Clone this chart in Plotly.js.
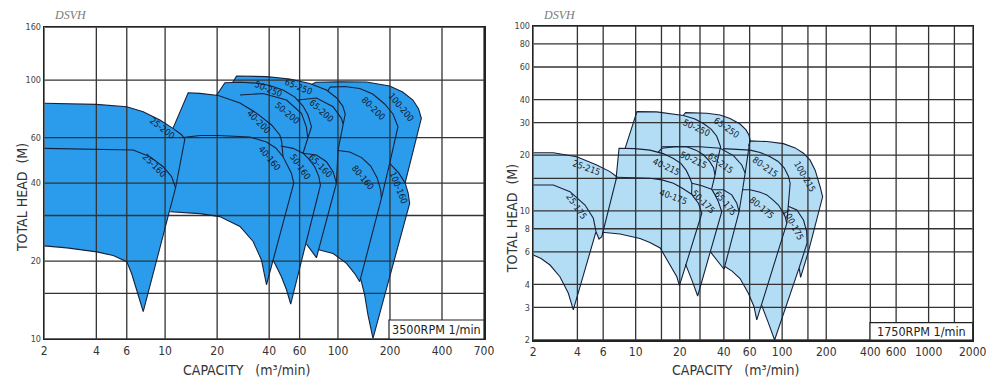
<!DOCTYPE html>
<html><head><meta charset="utf-8">
<script src="https://cdn.plot.ly/plotly-3.0.1.min.js"></script>
<style>html,body{margin:0;padding:0;background:#fff;}#chart{width:1000px;height:390px;}</style>
</head><body><div id="chart"></div>
<script>
// ===================== 3500 RPM (left chart) =====================
const xTicksL = [2,4,6,10,20,40,60,100,200,400,700];
const yTicksL = [10,20,40,60,100,160];
const xGridL = [2,4,6,10,20,40,60,100,200,400,700];
const yGridL = [10,15,20,30,40,60,100,160];

// pump family outlines (capacity m3/min, head m)
const L25_Q = [2,4,6,7.47,9.33,11.1,12.5,13.0,11.5,7.47,6.84,6.40,6.0,5.01,4.03,2.70,2];
const L25_H = [81.4,80.6,78.9,75.5,70.1,65.1,61.4,59.1,38.4,12.75,15.5,17.9,19.9,21.0,21.7,22.5,22.9];
const L25_160_Q = [2,4,6.54,8.17,9.75,10.9,11.5];
const L25_160_H = [54.5,54.2,53.7,50.6,46.3,42.4,38.4];

const L40_Q = [11.1,13.6,15.9,20.3,27.1,33.8,41.3,46.1,47.3,48.1,53.8,55.5,38.6,36.1,32.3,27.1,20.7,15.9,10.7];
const L40_H = [65.1,89.4,88.9,87.2,81.6,74.6,67.1,61.4,57.7,50.6,43.7,40.0,16.2,20.2,23.8,27.2,29.7,30.5,31.0];
const L40_160_Q = [12.7,15.9,20.3,30.9,38.6,43.7,48.1];
const L40_160_H = [60.0,61.1,61.1,60.3,57.7,54.7,50.6];

const L50_Q = [19.8,22.2,27.1,33.8,40.3,48.1,56.3,62.8,67.1,70.3,62.8,67.8,73.4,77.4,79.2,53.3,50.4,47.1,43.1,42.1];
const L50_H = [87.2,97.7,98.1,97.4,95.3,91.6,86.0,79.4,73.3,66.1,52.2,49.6,46.3,42.6,39.3,13.65,15.5,17.4,19.6,20.2];
const L50_200_Q = [27.1,36.9,50.4,61.5,65.7,66.9];
const L50_200_H = [87.6,88.8,83.8,74.4,65.9,59.8];
const L50_160_Q = [46.7,55.0,62.8];
const L50_160_H = [55.7,54.5,52.2];

const L65_Q = [24.6,25.9,38.6,52.6,68.7,85.8,98.4,106.6,110.2,100.1,98.0,75.1,65.7];
const L65_H = [97.8,103.7,103.2,101.0,97.0,91.6,85.3,79.4,74.0,53.7,40.0,20.6,23.3];
const L65_200_Q = [58.6,75.1,93.7,104.7,107.3];
const L65_200_H = [83.8,85.3,78.9,71.2,67.7];
const L65_160_Q = [62.8,75.1,85.8,93.7,98.0];
const L65_160_H = [52.2,51.4,48.4,44.3,40.0];

const L80_Q = [87.3,90.2,109.4,133.7,158.9,186.4,208.2,222.5,199.2,178.4,133.7,125.0,112.0,93.7,77.4];
const L80_H = [90.8,94.0,94.5,92.8,88.4,80.9,74.0,66.1,47.7,34.9,16.65,17.9,19.6,21.4,22.1];
const L80_160_Q = [100.4,117,137.2,154.7,168.7,176.7,178.4];
const L80_160_H = [53.5,52.8,50.2,46.6,41.9,37.6,34.9];

const L100_Q = [70.5,74.4,102.4,146.1,199.2,236.8,271.6,293,303.8,244.8,254.9,260,159.5,149.2,142.8,135.5];
const L100_H = [96.2,98.1,98.5,98.3,94.9,90.0,83.8,77.3,71.2,40.1,36.6,33.4,10.06,12.4,14.8,17.05];
const L100_160_Q = [199.2,224.6,244.8];
const L100_160_H = [47.7,43.8,40.1];

const labelsL = ['25-200','25-160','40-200','40-160','50-250','50-200','50-160','65-250','65-200','65-160','80-200','80-160','100-200','100-160'];
const labelQL = [9.6,8.73,34.8,40.0,39.4,50.8,60.7,59.3,80.3,79.2,161.6,139.6,230.6,223.7];
const labelHL = [65.5,46.7,68.7,49.9,92.1,74.8,46.3,93.8,76.0,46.6,77.6,41.8,78.5,38.2];

// ===================== 1750 RPM (right chart) =====================
const xTicksR = [2,4,6,10,20,40,60,100,200,400,600,1000,2000];
const yTicksR = [2,3,4,6,8,10,20,30,40,60,80,100];
const xGridR = [2,4,6,10,15,20,27.5,40,60,100,150,200,400,600,1000,1500,2000];
const yGridR = [2,3,4,6,8,10,15,20,30,40,60,80,100];

const R25_Q = [2,2.74,3.96,5.42,6.68,7.43,5.87,5.62,5.36,3.75,3.47,3.04,2.60,2.26,2];
const R25_H = [20.6,20.6,19.6,17.7,16.3,15.3,7.24,7.04,7.71,2.91,3.58,4.40,5.09,5.52,5.77];
const R25_175_Q = [2,2.74,3.56,4.51,5.14,5.36];
const R25_175_H = [13.8,13.8,12.7,10.75,9.11,7.71];

const R40_Q = [7.34,7.70,9.90,12.5,15.4,18.1,20.4,22.1,23.5,24.2,24.1,26.8,28.3,19.9,19.1,16.7,14.7,12.5,10.7,7.82,5.89];
const R40_H = [14.8,21.8,21.7,21.3,20.4,19.2,18.0,16.6,15.0,14.1,12.3,11.0,9.70,3.94,4.40,5.31,6.29,6.74,7.08,7.49,7.65];
const R40_175_Q = [7.43,9.90,12.5,15.1,18.1,20.7,24.1];
const R40_175_H = [15.2,15.1,15.0,14.7,14.1,13.3,12.3];

const R50_Q = [8.46,10.2,13.9,17.2,21.2,25.4,29.0,32.7,35.7,38.0,36.0,34.8,33.0,34.8,36.7,38.7,26.5,24.2,22.3,21.9];
const R50_H = [21.7,34.4,34.3,33.6,32.8,31.4,29.7,27.7,25.4,22.2,18.4,15.6,13.1,12.2,11.2,9.89,3.46,4.22,4.99,5.15];
const R50_215_Q = [14.2,15.1,18.6,22.3,25.8,29.0,32.0,34.0,34.8];
const R50_215_H = [20.7,21.8,22.2,22.2,21.3,20.1,18.5,17.1,15.6];
const R50_175_Q = [24.2,28.0,33.0];
const R50_175_H = [14.1,13.7,13.1];

const R65_Q = [21.1,21.9,30.6,37.7,44.1,51.6,56.7,59.3,60.4,58.8,57.2,55.9,53.7,50.8,40.1,33.9,32.3];
const R65_H = [32.8,34.0,33.7,33.0,31.6,29.5,27.4,25.7,24.2,21.3,18.4,16.0,13.0,9.89,4.83,5.77,6.01];
const R65_215_Q = [15.1,20.1,27.5,37.7,46.5,53.0,55.9];
const R65_215_H = [22.2,22.3,22.2,21.8,19.9,17.7,16.0];
const R65_175_Q = [33.5,39.7,45.3,49.0,50.8];
const R65_175_H = [13.0,13.0,12.2,11.0,9.89];

const R80_Q = [39.5,47.7,60.4,70.7,82.8,93.9,103.2,110.4,113.4,107.6,67.1,64.3,58.8,51.6,45.5,40.6];
const R80_H = [21.7,21.6,21.3,20.7,19.6,18.5,17.1,15.4,14.1,8.56,2.57,3.03,3.58,4.30,4.72,5.00];
const R80_175_Q = [53.7,60.4,70.7,78.6,87.2,94.3,100.0,104.8,107.6];
const R80_175_H = [13.0,13.0,12.6,12.2,11.4,10.75,9.98,9.29,8.56];

const R100_Q = [59.0,60.4,78.6,102.0,122.7,139.8,155.2,168.0,181.7,189.0,151.1,133.7,130.6,88.8,80.2,74.1,72.4];
const R100_H = [22.4,23.9,23.7,23.1,21.9,20.5,18.8,16.6,13.5,11.9,6.01,4.36,4.91,2.0,2.50,2.94,3.09];
const R100_175_Q = [109.9,126.0,139.8,146.9,148.1,130.6];
const R100_175_H = [10.6,10.1,8.92,7.78,6.70,4.91];

const labelsR = ['25-215','25-175','40-215','40-175','50-250','50-215','50-175','65-250','65-215','65-175','80-215','80-175','100-215','100-175'];
const labelQR = [4.63,3.96,16.3,18.1,26.1,24.8,29.0,41.9,37.7,40.8,76.5,72.6,143.5,119.4];
const labelHR = [17.0,10.5,17.3,11.9,28.0,18.8,11.2,28.0,18.1,11.0,17.3,10.3,15.3,8.38];

// ===================== drawing =====================
const FONT = "'DejaVu Sans Condensed','Liberation Sans Narrow','Liberation Sans',Arial,sans-serif";
const LINE_C = '#18213a';
const angL = [38,45,45,50,22,40,55,22,42,45,45,50,50,68];
const angR = [20,55,25,20,25,25,45,35,35,50,35,40,60,62];

function fillTrace(Q,H,xa,ya,color){
  return {type:'scatter',mode:'lines',x:Q,y:H,xaxis:xa,yaxis:ya,fill:'toself',fillcolor:color,
          line:{width:0,color:color},hoverinfo:'skip',showlegend:false};
}
function lineTrace(Q,H,xa,ya,w){
  return {type:'scatter',mode:'lines',x:Q,y:H,xaxis:xa,yaxis:ya,
          line:{width:w||1.1,color:LINE_C},hoverinfo:'skip',showlegend:false};
}
function gridTrace(xg,yg,xa,ya){
  const x=[],y=[];
  const y0=yg[0], y1=yg[yg.length-1], x0=xg[0], x1=xg[xg.length-1];
  xg.forEach(v=>{x.push(v,v,null);y.push(y0,y1,null);});
  yg.forEach(v=>{x.push(x0,x1,null);y.push(v,v,null);});
  return {type:'scatter',mode:'lines',x:x,y:y,xaxis:xa,yaxis:ya,connectgaps:false,
          line:{width:1.3,color:'#333333'},hoverinfo:'skip',showlegend:false};
}

const leftFam = [[L25_Q,L25_H],[L40_Q,L40_H],[L50_Q,L50_H],[L65_Q,L65_H],[L80_Q,L80_H],[L100_Q,L100_H]];
const leftCurves = [[L25_160_Q,L25_160_H],[L40_160_Q,L40_160_H],[L50_200_Q,L50_200_H],[L50_160_Q,L50_160_H],
                    [L65_200_Q,L65_200_H],[L65_160_Q,L65_160_H],[L80_160_Q,L80_160_H],[L100_160_Q,L100_160_H]];
const rightFam = [[R25_Q,R25_H],[R40_Q,R40_H],[R50_Q,R50_H],[R65_Q,R65_H],[R80_Q,R80_H],[R100_Q,R100_H]];
const rightCurves = [[R25_175_Q,R25_175_H],[R40_175_Q,R40_175_H],[R50_215_Q,R50_215_H],[R50_175_Q,R50_175_H],
                     [R65_215_Q,R65_215_H],[R65_175_Q,R65_175_H],[R80_175_Q,R80_175_H],[R100_175_Q,R100_175_H]];

const BLUE_L = '#2a9ceb', BLUE_R = '#b2ddf4';
const traces = [];
leftFam.forEach(f=>traces.push(fillTrace(f[0],f[1],'x','y',BLUE_L)));
rightFam.forEach(f=>traces.push(fillTrace(f[0],f[1],'x2','y2',BLUE_R)));
traces.push(gridTrace(xGridL,yGridL,'x','y'));
traces.push(gridTrace(xGridR,yGridR,'x2','y2'));
leftFam.forEach(f=>traces.push(lineTrace(f[0],f[1],'x','y')));
leftCurves.forEach(f=>traces.push(lineTrace(f[0],f[1],'x','y')));
rightFam.forEach(f=>traces.push(lineTrace(f[0],f[1],'x2','y2')));
rightCurves.forEach(f=>traces.push(lineTrace(f[0],f[1],'x2','y2')));

const annotations = [];
labelsL.forEach((t,i)=>annotations.push({xref:'x',yref:'y',x:Math.log10(labelQL[i]),y:Math.log10(labelHL[i]),
  xanchor:'center',yanchor:'middle',text:t,showarrow:false,textangle:angL[i],font:{family:FONT,size:9,color:'#131a2e'}}));
labelsR.forEach((t,i)=>annotations.push({xref:'x2',yref:'y2',x:Math.log10(labelQR[i]),y:Math.log10(labelHR[i]),
  xanchor:'center',yanchor:'middle',text:t,showarrow:false,textangle:angR[i],font:{family:FONT,size:9,color:'#131a2e'}}));

const titleFont = {family:FONT,size:14,color:'#333'};
function pAnn(x,y,text,font,angle){
  return {xref:'paper',yref:'paper',x:x,y:y,xanchor:'center',yanchor:'middle',text:text,showarrow:false,
          font:font,textangle:angle||0};
}
const serif = {family:"'Liberation Serif','DejaVu Serif',serif",size:12,color:'#7a7a7a'};
annotations.push(
  pAnn(0.022,0.492,'TOTAL HEAD  (M)',titleFont,-90),
  pAnn(0.512,0.438,'TOTAL HEAD  (M)',titleFont,-90),
  pAnn(0.247,0.051,'CAPACITY   (m³/min)',titleFont),
  pAnn(0.736,0.051,'CAPACITY   (m³/min)',titleFont),
  pAnn(0.070,0.962,'<i>DSVH</i>',serif),
  pAnn(0.559,0.962,'<i>DSVH</i>',serif),
  pAnn(0.4365,0.155,'3500RPM 1/min',{family:FONT,size:12.5,color:'#222'}),
  pAnn(0.9213,0.1504,'1750RPM 1/min',{family:FONT,size:12.5,color:'#222'})
);

const shapes = [
  {type:'rect',xref:'paper',yref:'paper',x0:0.389,x1:0.484,y0:0.1308,y1:0.1795,fillcolor:'#fff',line:{color:'#222',width:1.2},layer:'above'},
  {type:'rect',xref:'paper',yref:'paper',x0:0.870,x1:0.9727,y0:0.1282,y1:0.1726,fillcolor:'#fff',line:{color:'#222',width:1.2},layer:'above'}
];

function xAx(dom,rng,ticks,anchor){
  return {type:'log',domain:dom,range:rng,tickmode:'array',tickvals:ticks,ticktext:ticks.map(String),
    showgrid:false,zeroline:false,showline:true,mirror:true,linecolor:'#222',linewidth:1.5,ticks:'',
    tickfont:{family:FONT,size:12,color:'#333'},anchor:anchor,fixedrange:true};
}
function yAx(dom,rng,ticks,anchor){
  return {type:'log',domain:dom,range:rng,tickmode:'array',tickvals:ticks,ticktext:ticks.map(String),
    showgrid:false,zeroline:false,showline:true,mirror:true,linecolor:'#222',linewidth:1.5,ticks:'',
    tickfont:{family:FONT,size:9,color:'#444'},anchor:anchor,fixedrange:true};
}

const layout = {
  width:1000,height:390,margin:{l:0,r:0,t:0,b:0},paper_bgcolor:'#fff',plot_bgcolor:'#fff',showlegend:false,
  xaxis: xAx([0.0443,0.484],[Math.log10(2),Math.log10(700)],xTicksL,'y'),
  yaxis: yAx([0.1308,0.930],[1,Math.log10(160)],yTicksL,'x'),
  xaxis2: xAx([0.5333,0.9727],[Math.log10(2),Math.log10(2000)],xTicksR,'y2'),
  yaxis2: yAx([0.1282,0.9333],[Math.log10(2),2],yTicksR,'x2'),
  annotations:annotations, shapes:shapes
};

Plotly.newPlot('chart',traces,layout,{staticPlot:true,displayModeBar:false});
</script></body></html>
